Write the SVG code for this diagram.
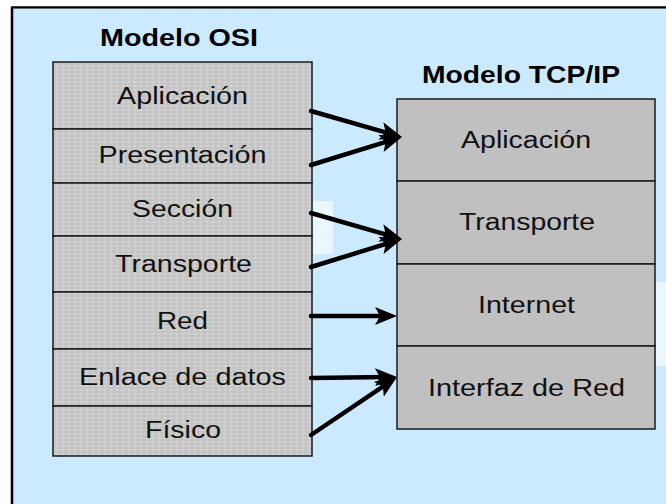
<svg xmlns="http://www.w3.org/2000/svg" width="666" height="504" viewBox="0 0 666 504">
<style>
  .lbl { font-family: "Liberation Sans", Arial, sans-serif; font-size: 23px; fill: #111; text-anchor: middle; }
  .ttl { font-family: "Liberation Sans", Arial, sans-serif; font-size: 23px; font-weight: bold; fill: #000; text-anchor: middle; }
  .osi { fill: url(#dots); stroke: #1a1a1a; stroke-width: 1.5; }
  .tcp { fill: #c0c0c0; stroke: #1a1a1a; stroke-width: 1.5; }
  .arr { stroke: #000; stroke-width: 4.5; fill: none; stroke-linecap: round; marker-end: url(#head); }
</style>
<defs>
  <pattern id="dots" width="6" height="4" patternUnits="userSpaceOnUse">
    <rect width="6" height="4" fill="#c4c4c4"/>
    <ellipse cx="3" cy="2" rx="2" ry="1.3" fill="#d2d2d2"/>
  </pattern>
  <marker id="head" viewBox="0 0 22 18" refX="12" refY="9" markerWidth="22" markerHeight="18" markerUnits="userSpaceOnUse" orient="auto">
    <path d="M0,0 L22,9 L0,18 L5,9 Z" fill="#000"/>
  </marker>
</defs>
<rect x="0" y="0" width="666" height="504" fill="#ffffff"/>
<rect x="12" y="7.5" width="660" height="500" fill="#cceaff"/>
<line x1="12" y1="7.5" x2="666" y2="7.5" stroke="#000" stroke-width="2.5"/>
<line x1="12" y1="8.5" x2="666" y2="8.5" stroke="#777" stroke-width="0.8"/>
<line x1="12" y1="6.5" x2="12" y2="504" stroke="#000" stroke-width="2.5"/>
<rect x="313" y="201" width="20" height="53" fill="#ebf7ff"/>
<line x1="313" y1="237" x2="333" y2="237" stroke="#dcefff" stroke-width="1"/>
<rect x="656" y="282" width="10" height="84" fill="#ebf7ff"/>

<g id="osi-title"><text class="ttl" x="179" y="46" textLength="158" lengthAdjust="spacingAndGlyphs">Modelo OSI</text></g>
<g id="tcp-title"><text class="ttl" x="521" y="83" textLength="198" lengthAdjust="spacingAndGlyphs">Modelo TCP/IP</text></g>

<g id="osi-aplicacion"><rect class="osi" x="53" y="62" width="259" height="67"/><text class="lbl" x="182.5" y="104" textLength="131" lengthAdjust="spacingAndGlyphs">Aplicación</text></g>
<g id="osi-presentacion"><rect class="osi" x="53" y="129" width="259" height="54"/><text class="lbl" x="182.5" y="163" textLength="168" lengthAdjust="spacingAndGlyphs">Presentación</text></g>
<g id="osi-seccion"><rect class="osi" x="53" y="183" width="259" height="53"/><text class="lbl" x="182.5" y="217" textLength="101" lengthAdjust="spacingAndGlyphs">Sección</text></g>
<g id="osi-transporte"><rect class="osi" x="53" y="236" width="259" height="56"/><text class="lbl" x="183.5" y="272" textLength="137" lengthAdjust="spacingAndGlyphs">Transporte</text></g>
<g id="osi-red"><rect class="osi" x="53" y="292" width="259" height="57"/><text class="lbl" x="182.5" y="329" textLength="51" lengthAdjust="spacingAndGlyphs">Red</text></g>
<g id="osi-enlace"><rect class="osi" x="53" y="349" width="259" height="57"/><text class="lbl" x="182.5" y="385" textLength="207" lengthAdjust="spacingAndGlyphs">Enlace de datos</text></g>
<g id="osi-fisico"><rect class="osi" x="53" y="406" width="259" height="50"/><text class="lbl" x="183" y="438" textLength="76" lengthAdjust="spacingAndGlyphs">Físico</text></g>

<g id="tcp-aplicacion"><rect class="tcp" x="397" y="99" width="258" height="82"/><text class="lbl" x="526" y="148" textLength="130" lengthAdjust="spacingAndGlyphs">Aplicación</text></g>
<g id="tcp-transporte"><rect class="tcp" x="397" y="181" width="258" height="83"/><text class="lbl" x="527" y="230" textLength="136" lengthAdjust="spacingAndGlyphs">Transporte</text></g>
<g id="tcp-internet"><rect class="tcp" x="397" y="264" width="258" height="82"/><text class="lbl" x="526.5" y="313" textLength="97" lengthAdjust="spacingAndGlyphs">Internet</text></g>
<g id="tcp-interfaz"><rect class="tcp" x="397" y="346" width="258" height="83"/><text class="lbl" x="526.5" y="396" textLength="197" lengthAdjust="spacingAndGlyphs">Interfaz de Red</text></g>

<g id="connectors">
  <line class="arr" x1="311" y1="111" x2="392.4" y2="134.3"/>
  <line class="arr" x1="311" y1="165" x2="392.4" y2="139.9"/>
  <line class="arr" x1="311" y1="213" x2="392.4" y2="236.3"/>
  <line class="arr" x1="311" y1="267" x2="392.4" y2="241.9"/>
  <line class="arr" x1="311" y1="316" x2="387" y2="316"/>
  <line class="arr" x1="311" y1="378" x2="387" y2="377.1"/>
  <line class="arr" x1="311" y1="435" x2="388.7" y2="382.6"/>
</g>
</svg>
